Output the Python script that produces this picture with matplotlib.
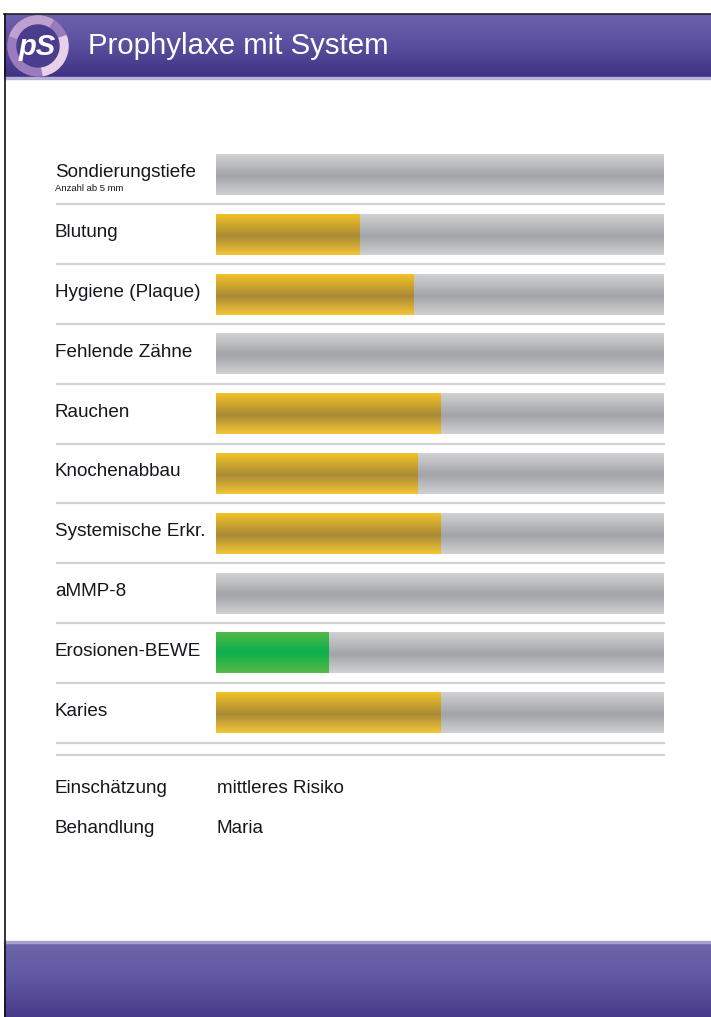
#!/usr/bin/env python3

import numpy as np
import matplotlib.pyplot as plt
from matplotlib.colors import LinearSegmentedColormap
from matplotlib.patches import Circle, Wedge, Rectangle

plt.rcParams['font.family'] = ['Liberation Sans', 'DejaVu Sans']

TITLE = "Prophylaxe mit System"
CATEGORIES = ["Sondierungstiefe", "Blutung", "Hygiene (Plaque)", "Fehlende Zähne",
              "Rauchen", "Knochenabbau", "Systemische Erkr.", "aMMP-8",
              "Erosionen-BEWE", "Karies"]
SUBLABELS = {0: "Anzahl ab 5 mm"}
VALUES = [0, 32, 44, 0, 50, 45, 50, 0, 25, 50]   # percent of the track
LEVELS = ["none", "mid", "mid", "none", "mid", "mid", "mid", "none", "low", "mid"]
MAX_VALUE = 100
SUMMARY_KEYS = ["Einschätzung", "Behandlung"]
SUMMARY_VALUES = ["mittleres Risiko", "Maria"]

W, H = 711, 1017
PITCH = 59.8          # px per row
BAR_H = 0.686         # in rows

def vgrad(colors):
  return LinearSegmentedColormap.from_list("g", colors)

GRAY = vgrad([(0, "#d3d4d6"), (0.55, "#a2a4a7"), (1, "#d0d1d3")])
YELLOW = vgrad([(0, "#f6c526"), (0.55, "#aa8a36"), (1, "#f3c535")])
GREEN = vgrad([(0, "#55b94a"), (0.5, "#0cae4c"), (1, "#58ba48")])
FILL = {"mid": YELLOW, "low": GREEN}
TEXT = "#16161e"

fig = plt.figure(figsize=(W / 100, H / 100), dpi=100)

# page decoration in pixel coordinates
bg = fig.add_axes([0, 0, 1, 1])
bg.axis("off")
ramp = np.linspace(0, 1, 256).reshape(-1, 1)
head = vgrad(["#6b61ab", "#5a4f9e", "#3e3182"])
bg.imshow(ramp, cmap=head, aspect="auto", extent=(4, W, 77, 14), origin="upper", zorder=1)
bg.add_patch(Rectangle((4, 77), W - 4, 2, color="#b9b2d8", zorder=2))
foot = vgrad(["#6e66aa", "#5f57a2", "#483a88"])
bg.imshow(ramp, cmap=foot, aspect="auto", extent=(4, W, H, 943), origin="upper", zorder=1)
bg.add_patch(Rectangle((4, 941), W - 4, 2, color="#a7a1cf", zorder=2))
bg.plot([4, W], [13.5, 13.5], color="#222222", lw=1.2, zorder=3)
bg.plot([4.5, 4.5], [13.5, H], color="#111111", lw=1.2, zorder=3)
bg.set_xlim(0, W)
bg.set_ylim(H, 0)

# logo
cx, cy = 38, 46
bg.add_patch(Circle((cx, cy), 30, color="#9a7cbc", zorder=3))
bg.add_patch(Wedge((cx, cy), 30, -20, 80, width=9, color="#e8d0e8", zorder=4))
bg.add_patch(Wedge((cx, cy), 30, 200, 300, width=9, color="#c0a0d0", zorder=4))
bg.add_patch(Circle((cx, cy), 21, color="#4a3d8e", zorder=5))
bg.text(cx - 1, cy + 1, "pS", color="white", fontsize=21, fontweight="bold",
        fontstyle="italic", ha="center", va="center", zorder=6)
bg.text(88, 54, TITLE, color="white", fontsize=21.2, va="baseline", zorder=6)

# bars
x0_px, x1_px = 216, 664
left_px = 57
top_px = 174.5 - PITCH / 2
ax = fig.add_axes([left_px / W, 1 - (top_px + 10 * PITCH) / H,
                   (x1_px - left_px) / W, 10 * PITCH / H])
scale = (x1_px - x0_px) / MAX_VALUE
xmin = -(x0_px - left_px) / scale
ax.axis("off")

tracks = ax.barh(range(len(CATEGORIES)), [MAX_VALUE] * len(CATEGORIES),
                 height=BAR_H, color="#b8babd", zorder=1)
fills = ax.barh(range(len(CATEGORIES)), VALUES, height=BAR_H, color="#d8a830", zorder=2)
for i, (t, f) in enumerate(zip(tracks, fills)):
  ext = (0, MAX_VALUE, i + BAR_H / 2, i - BAR_H / 2)
  im = ax.imshow(ramp, cmap=GRAY, aspect="auto", extent=ext, origin="upper", zorder=1.5)
  im.set_clip_path(t)
  if VALUES[i] > 0:
    im = ax.imshow(ramp, cmap=FILL[LEVELS[i]], aspect="auto", extent=ext,
                   origin="upper", zorder=2.5)
    im.set_clip_path(f)

label_x = xmin - 2 / scale
for i, name in enumerate(CATEGORIES):
  off = 2.5 if i in SUBLABELS else 3
  ax.text(label_x, i + off / PITCH, name, fontsize=13.6, color=TEXT,
          va="baseline", ha="left", clip_on=False)
  if i in SUBLABELS:
    ax.text(label_x, i + 16.5 / PITCH, SUBLABELS[i], fontsize=6.8, color=TEXT,
            va="baseline", ha="left", clip_on=False)

seps = [i + 0.5 for i in range(len(CATEGORIES))] + [len(CATEGORIES) - 0.5 + 12 / PITCH]
for s in seps:
  ax.plot([xmin, MAX_VALUE], [s, s], color="#d2d2d4", lw=1.6, zorder=0, clip_on=False)

ax.set_xlim(xmin, MAX_VALUE)
ax.set_ylim(len(CATEGORIES) - 0.5, -0.5)

# summary
for k, (key, val) in enumerate(zip(SUMMARY_KEYS, SUMMARY_VALUES)):
  y = 793 + 40 * k
  bg.text(55, y, key, fontsize=13.6, color=TEXT, va="baseline")
  bg.text(217, y, val, fontsize=13.6, color=TEXT, va="baseline")

fig.savefig("out.png", dpi=100)
